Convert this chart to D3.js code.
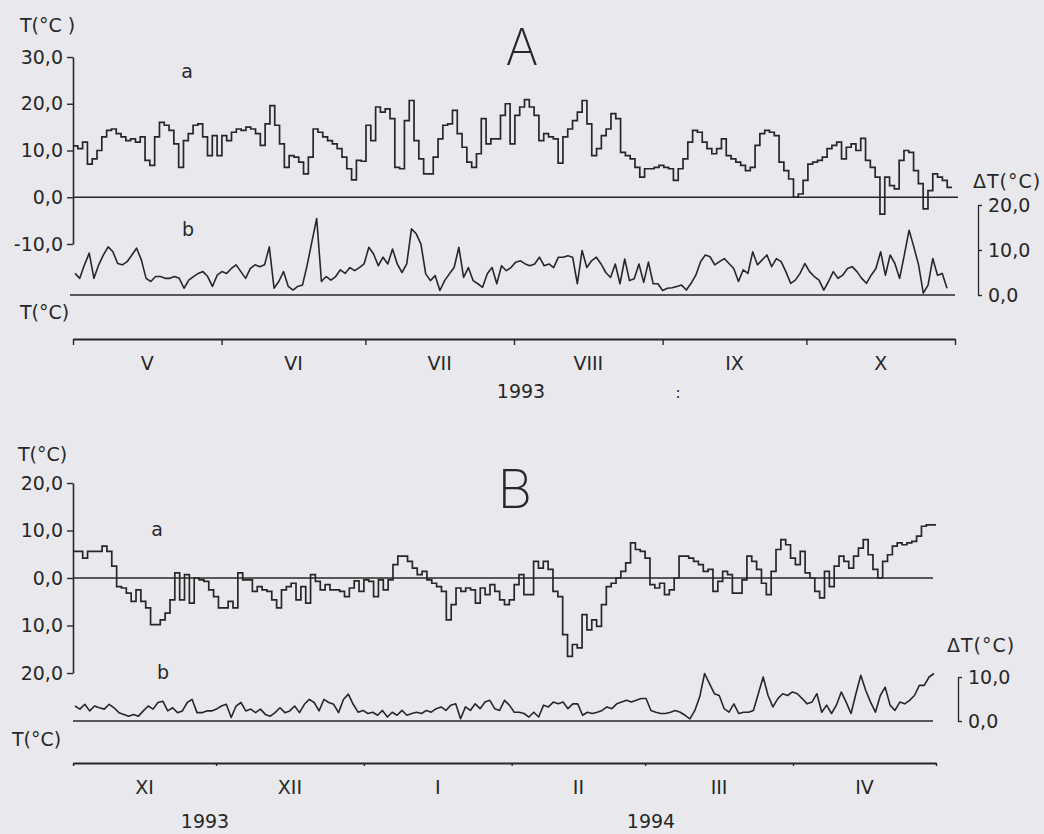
<!DOCTYPE html>
<html>
<head>
<meta charset="utf-8">
<script src="https://cdn.jsdelivr.net/npm/d3@7"></script>
<style>
html,body{margin:0;padding:0;background:#e9e9ed;}
svg{display:block;font-family:"DejaVu Sans",sans-serif;}
</style>
</head>
<body>
<svg id="chart" width="1044" height="834"></svg>
<script>
// A: V-X 1993, a = daily temperature T, b = daily amplitude dT
var monthsA=["V","VI","VII","VIII","IX","X"];
var tA=[11,10.4,11.8,7.1,8.2,10,12.9,14.3,14.6,13.6,12.9,12.1,12.5,11.8,12.9,7.9,6.8,12.9,16,15.4,
14.3,11.4,6.4,12.1,13.6,15.4,15.7,12.9,8.9,13.2,8.9,13.2,12.1,13.9,14.6,14.3,15,14.6,13.6,11.1,
15.7,19.6,15.4,11.4,6.4,8.9,8.6,7.5,5,8.6,14.6,13.9,12.9,12.1,
11.4,10.4,8.6,6.1,3.7,7.9,7.7,15.4,12.1,19.3,18.2,18.9,16.8,6.4,6.1,16.4,20.7,12.1,8.2,5,
5,8.6,12.5,15.4,15.7,18.6,13.6,10.7,7.5,6.4,9.3,16.8,11.4,12.5,12.5,17.5,20,11.4,17.5,19.3,
20.9,19.3,17.5,12.1,13.6,12.9,12.5,7.3,12.9,14.6,16.4,18.2,20.7,15.7,8.9,10.4,13.2,14.6,17.9,16.8,
9.6,8.9,8.2,6.4,4.3,6.1,6.1,
6.4,6.8,6.4,6.1,3.6,6.1,8.2,11.8,14.3,13.9,11.8,10.4,9.3,10.4,12.5,8.9,8.2,7.5,6.8,5.7,
6.4,11.1,13.6,14.3,13.9,13.2,7.5,5.7,3.9,0,0.7,3.6,7.1,7.5,7.9,8.6,10.4,11.1,11.8,8.2,
10.7,11.4,10,12.6,7.9,6.4,4.3,-3.6,4.3,2.5,1.8,7.9,10,9.6,5.7,2.9,-2.5,1.4,5,4.3,3.6,2.1];
var dtA=[4.8,3.7,6.7,9.3,3.7,6.7,8.9,10.7,9.6,7.0,6.7,7.4,8.9,10.4,7.8,3.7,3.0,4.1,4.1,3.7,
3.7,4.1,3.7,1.5,3.3,4.1,4.8,5.2,4.1,1.9,4.4,5.2,4.8,5.9,6.7,5.2,3.7,5.9,6.7,6.3,
6.7,10.7,1.5,3.0,5.2,1.9,1.1,1.9,2.2,6.7,11.9,17.0,3.0,4.1,3.3,4.1,5.6,4.8,
6.1,5.4,6.1,6.9,10.6,9.1,6.5,8.4,6.9,10.2,6.9,5.0,6.9,14.7,13.6,11.3,4.7,3.2,4.3,1.0,
3.2,4.7,6.1,10.6,3.9,6.1,3.2,2.5,1.7,4.7,6.1,2.5,6.5,5.4,6.1,7.3,7.6,6.9,6.5,6.9,
8.4,6.5,6.9,6.1,8.4,8.4,8.7,8.4,2.5,9.9,6.1,7.6,8.4,6.9,5.0,3.9,6.9,2.5,8.0,3.2,
3.6,6.9,2.8,7.3,2.5,2.5,1.0,
1.5,1.6,1.9,2.2,1.1,2.6,4.4,7.4,8.9,8.5,6.7,7.4,8.1,7.0,5.9,3.0,5.6,4.8,9.6,6.7,
7.8,8.9,6.3,8.1,7.4,5.2,2.6,3.3,4.8,7.0,5.2,4.1,3.3,1.1,3.0,5.2,3.7,4.4,5.9,6.3,
5.2,3.7,2.6,4.4,5.9,9.6,4.4,8.9,7.0,3.7,8.9,14.4,10.7,6.7,0.4,2.2,8.1,4.4,4.8,1.5];
var ticksA=[-10,0,10,20,30];
var dticksA=[0,10,20];

// B: XI 1993 - IV 1994
var monthsB=["XI","XII","I","II","III","IV"];
var tB=[5.6,5.6,4.2,5.6,5.6,5.6,6.7,5.6,2.5,-1.8,-2.1,-3.2,-4.9,-2.5,-4.9,-6.3,-9.8,-9.8,-8.8,-7.4,
-4.6,1.1,-4.6,0.7,-5.3,0,-0.4,-0.7,-2.5,-3.9,-6.3,-6.3,-4.9,-6.3,1.1,-0.4,-0.4,-2.8,-1.8,-2.5,
-2.8,-4.6,-6.3,-2.5,-1.8,-1.1,-4.6,-1.8,-5.3,0.7,-0.7,-2.5,-1.4,-2.5,-2.5,-2.8,-3.9,
-2.1,-0.6,-2.8,-0.4,-0.7,-3.9,-0.4,-2.5,-0.4,2.8,4.6,4.6,3.5,2.1,0.7,1.4,-0.4,-1.1,-1.8,-2.8,
-8.8,-5.6,-2.1,-2.8,-2.1,-2.5,-5.3,-2.1,-3.5,-1.4,-2.8,-4.6,-5.6,-4.6,-1.4,0.7,-3.5,-3.5,3.5,2.1,
3.5,1.8,-2.8,-3.9,-11.9,-16.5,-14,-14.7,-7.7,-10.9,-8.8,-10.2,-5.6,-1.8,-1.1,0,1.4,3.2,7.4,6,
5.6,4.2,-1.4,
-2.1,-1.1,-3.5,-2.5,0,4.6,4.6,4.2,3.5,2.8,1.4,1.8,-2.8,-0.7,1.4,0.7,-3.2,-3.2,-0.4,4.6,
3.5,1.8,-1.1,-3.5,1.4,6,8.1,7,4.2,2.8,5.6,1.1,0,-2.8,-4.2,1.4,-1.8,2.5,4.6,3.5,
2.1,4.6,6.3,8.1,4.9,1.8,0,3.5,4.9,6.7,7.4,7,7.4,7.7,8.8,10.9,11.2,11.2];
var dtB=[3.4,2.7,3.8,2.3,3.4,3.0,2.7,3.8,3.0,1.9,1.5,1.1,1.5,1.1,2.3,3.4,2.7,4.2,4.5,2.3,
3.0,1.9,2.3,4.2,4.9,1.9,1.9,2.3,2.3,2.7,3.4,3.8,0.8,3.4,4.2,2.3,2.7,1.9,2.7,1.5,
1.1,1.9,3.0,1.9,2.3,3.4,1.9,3.8,4.9,4.2,2.3,4.9,4.2,3.8,1.9,4.9,6.1,3.8,
2.0,2.4,1.7,2.0,1.3,2.4,0.9,2.0,1.3,2.4,1.3,1.7,2.0,1.7,2.4,2.0,2.8,3.2,2.4,3.6,
3.9,0.5,3.2,2.4,3.9,2.8,4.3,4.7,2.8,2.4,4.7,3.6,2.0,2.0,1.7,0.9,2.0,0.9,3.6,3.2,
4.3,3.9,4.3,2.8,3.9,3.9,1.3,2.0,1.7,2.0,2.4,3.2,2.8,3.9,4.3,4.7,4.3,4.7,5.1,5.1,
2.4,2.0,1.7,
1.7,2.0,2.4,2.0,1.3,0.5,2.4,5.5,10.8,8.5,6.2,5.8,2.8,2.0,3.9,1.7,2.0,2.0,2.4,6.2,
10.0,5.8,3.2,5.1,6.2,5.8,6.6,6.2,5.1,3.9,4.3,6.2,2.0,3.6,1.7,3.6,6.6,4.3,1.7,6.2,
10.4,7.0,4.3,2.0,5.8,7.7,3.6,2.4,4.3,3.9,4.7,5.8,8.1,8.1,10.0,10.8];
var ticksB=[-20,-10,0,10,20];
var dticksB=[0,10];

var svg=d3.select("#chart");
var ink="#272727";
svg.append("rect").attr("width",1044).attr("height",834).attr("fill","#e9e9ed");

//逗号小数, 普通连字符负号
var fmt1=d3.formatLocale({decimal:",",thousands:".",grouping:[3],currency:["",""],minus:"-"}).format(".1f");
function comma(v){return fmt1(v);}
function commaAbs(v){return fmt1(Math.abs(v));}

function label(x,y,txt,anchor,size){
    return svg.append("text").attr("x",x).attr("y",y).text(txt)
        .attr("text-anchor",anchor||"start")
        .attr("font-size",size||19)
        .attr("fill",ink);
}

function styleAxis(g){
    g.select(".domain").attr("stroke",ink).attr("stroke-width",1.6);
    g.selectAll(".tick line").attr("stroke",ink).attr("stroke-width",1.4);
    g.selectAll(".tick text").attr("fill",ink).attr("font-size",19)
        .attr("font-family","DejaVu Sans, sans-serif");
}

function drawPanel(p){
    var x=d3.scaleLinear().domain([0,p.t.length]).range([73,p.xEnd]);
    var y=d3.scaleLinear().domain(p.yDomain).range(p.yRange);
    var dy=d3.scaleLinear().domain(p.dDomain).range(p.dRange);
    var m=d3.scaleUtc().domain([p.start,d3.utcMonth.offset(p.start,6)]).range([73,p.mEnd]);

    //零线
    svg.append("line").attr("x1",73).attr("x2",p.zeroEnd)
        .attr("y1",y(0)).attr("y2",y(0))
        .attr("stroke",ink).attr("stroke-width",1.6);
    //b 基线
    svg.append("line").attr("x1",p.baseStart).attr("x2",p.baseEnd)
        .attr("y1",dy(0)).attr("y2",dy(0))
        .attr("stroke",ink).attr("stroke-width",1.6);

    //a 阶梯线
    var pts=p.t.map(function(v,i){return [i,v];});
    pts.push([p.t.length,p.t[p.t.length-1]]);
    svg.append("path").datum(pts)
        .attr("d",d3.line().x(function(d){return x(d[0]);}).y(function(d){return y(d[1]);})
            .curve(d3.curveStepAfter))
        .attr("fill","none").attr("stroke",ink).attr("stroke-width",1.7)
        .attr("stroke-linejoin","miter");

    //b 折线
    var xb=d3.scaleLinear().domain([0,p.dt.length-1]).range([75,p.bEnd]);
    svg.append("path").datum(p.dt)
        .attr("d",d3.line().x(function(d,i){return xb(i);}).y(function(d){return dy(d);}))
        .attr("fill","none").attr("stroke",ink).attr("stroke-width",1.6)
        .attr("stroke-linejoin","round");

    //左轴
    var gl=svg.append("g").attr("transform","translate(73,0)")
        .call(d3.axisLeft(y).tickValues(p.ticks).tickSize(6).tickSizeOuter(0)
            .tickPadding(4).tickFormat(p.fmt));
    styleAxis(gl);

    //右轴
    var gr=svg.append("g").attr("transform","translate("+p.rAxisX+",0)")
        .call(d3.axisRight(dy).tickValues(p.dticks).tickSize(4).tickSizeOuter(0)
            .tickPadding(6).tickFormat(comma));
    styleAxis(gr);
    gr.select(".domain").attr("stroke-width",1.3);

    //月份轴
    var gm=svg.append("g").attr("transform","translate(0,"+p.mY+")")
        .call(d3.axisBottom(m).ticks(d3.utcMonth.every(1)).tickSize(p.mTick)
            .tickSizeOuter(0).tickFormat(""));
    styleAxis(gm);
    gm.select(".domain").attr("stroke-width",2);
    p.months.forEach(function(s,i){
        var a=d3.utcMonth.offset(p.start,i),b=d3.utcMonth.offset(p.start,i+1);
        label((m(a)+m(b))/2,p.mY+31,s,"middle");
    });
}

drawPanel({t:tA,dt:dtA,xEnd:952,bEnd:947,zeroEnd:958,baseStart:70,baseEnd:955,
    yDomain:[-10,30],yRange:[244,57],dDomain:[0,20],dRange:[295,205],
    ticks:ticksA,dticks:dticksA,fmt:comma,rAxisX:978,
    start:new Date(Date.UTC(1993,4,1)),mEnd:955,mY:339,mTick:6,months:monthsA});

drawPanel({t:tB,dt:dtB,xEnd:936,bEnd:934,zeroEnd:933,baseStart:73,baseEnd:933,
    yDomain:[-20,20],yRange:[673,483],dDomain:[0,10],dRange:[721,677],
    ticks:ticksB,dticks:dticksB,fmt:commaAbs,rAxisX:958,
    start:new Date(Date.UTC(1993,10,1)),mEnd:936,mY:763,mTick:3,months:monthsB});

//文字标注 A
label(20,32,"T(°C )");
label(20,319,"T(°C)");
label(187,78,"a","middle");
label(188,236,"b","middle");
label(973,188,"ΔT(°C)").attr("letter-spacing",1);
label(521,398,"1993","middle");
label(678,398,":","middle",15);
label(522,65,"A","middle",50).attr("font-family","Inter, sans-serif").attr("font-weight",200);

//文字标注 B
label(18,461,"T(°C)");
label(12,746,"T(°C)");
label(157,536,"a","middle");
label(163,679,"b","middle");
label(947,652,"ΔT(°C)").attr("letter-spacing",1);
label(205,828,"1993","middle");
label(651,828,"1994","middle");
label(515,508,"B","middle",54).attr("font-family","Inter, sans-serif").attr("font-weight",200);
</script>
</body>
</html>
